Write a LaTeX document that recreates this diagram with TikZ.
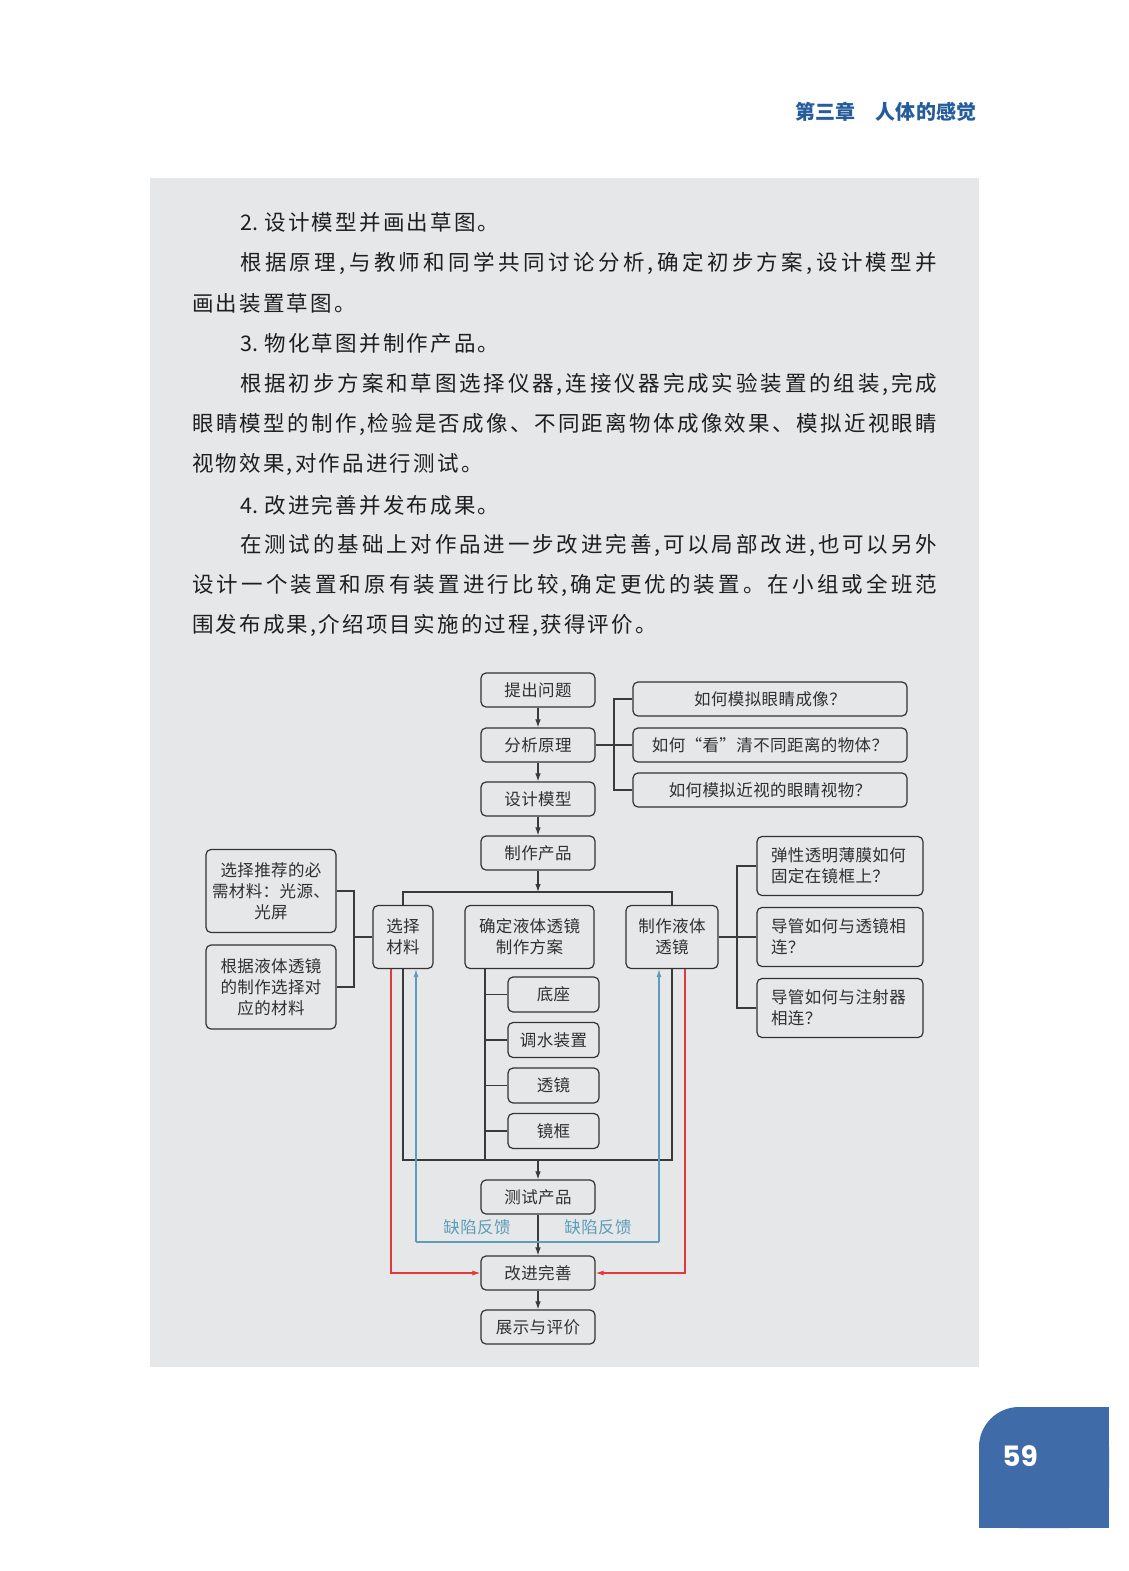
\documentclass[tikz,border=0pt]{standalone}
\usepackage{fontspec}
\usetikzlibrary{arrows.meta}
\setmainfont{Noto Sans CJK SC}
\newfontfamily\pgnumfont{Poppins}
\definecolor{panel}{HTML}{E6E7E9}
\definecolor{bluehead}{HTML}{245C9C}
\definecolor{pagebox}{HTML}{3F6CA8}
\definecolor{boxc}{HTML}{333333}
\definecolor{linec}{HTML}{3A3A3A}
\definecolor{redc}{HTML}{E5383B}
\definecolor{fbc}{HTML}{5E9DB8}
\definecolor{txt}{HTML}{1E1E1E}
\definecolor{txtb}{HTML}{303030}
% character classes for inter-character glue
\newcount\cc
\cc="4E00
\loop \XeTeXcharclass\cc=1 \advance\cc by 1 \ifnum\cc<"A000 \repeat
\XeTeXcharclass"3000=1
\XeTeXcharclass"3001=3 \XeTeXcharclass"3002=3 \XeTeXcharclass"FF0C=3
\XeTeXcharclass"FF1A=3 \XeTeXcharclass"FF1F=3
\XeTeXcharclass"201C=2 \XeTeXcharclass"201D=3
\newskip\cjkgap
\cjkgap=0pt
\XeTeXinterchartokenstate=1
\XeTeXinterchartoks 1 1 {\hskip\cjkgap}
\XeTeXinterchartoks 1 2 {\hskip\cjkgap}
\XeTeXinterchartoks 1 3 {\hskip\cjkgap}
\XeTeXinterchartoks 2 1 {\hskip\cjkgap}
\XeTeXinterchartoks 3 1 {\hskip\cjkgap}
\XeTeXinterchartoks 3 3 {\hskip\cjkgap}
\XeTeXinterchartoks 0 1 {\hskip\cjkgap}
\XeTeXinterchartoks 1 0 {\hskip\cjkgap}
\XeTeXinterchartoks 3 0 {\hskip\cjkgap}
\XeTeXinterchartoks 0 3 {\hskip\cjkgap}
\newcommand\bdfont{\fontsize{21.5pt}{26pt}\selectfont\cjkgap=2.2pt plus 40pt minus 4pt\relax}
\newcommand\dgfont{\fontsize{16.5pt}{21pt}\selectfont\cjkgap=0.4pt\relax}
\newcommand\hdfont{\fontsize{20pt}{20pt}\selectfont\bfseries\cjkgap=0.3pt\relax}
\begin{document}
\begin{tikzpicture}[x=1pt,y=-1pt,
  box/.style={draw=boxc, line width=1.2pt, rounded corners=5pt, inner sep=0pt, font=\dgfont, text=txtb, align=center},
  lbox/.style={box, align=left, text width=138pt},
  conn/.style={draw=linec, line width=1.1pt},
  arr/.style={conn, -{Latex[length=8pt,width=5.5pt]}},
  fbline/.style={draw=fbc, line width=1.1pt},
  fbarr/.style={fbline, -{Latex[length=8pt,width=5pt]}},
  rline/.style={draw=redc, line width=1.1pt},
  rarr/.style={rline, -{Latex[length=8pt,width=5pt]}},
  body/.style={anchor=west, inner sep=0pt, font=\bdfont, text=txt}]
\useasboundingbox (0,0) rectangle (1129,1571);
\fill[white] (0,0) rectangle (1129,1571);
\fill[panel] (150,178) rectangle (979,1367);

% header
\node[anchor=east, inner sep=0pt, font=\hdfont, text=bluehead] (head) at (977,112) {第三章\hspace{1em}人体的感觉};

% page number
\fill[pagebox, rounded corners=40pt] (979,1407) rectangle (1109,1528);
\fill[pagebox] (1044,1407) rectangle (1109,1528);
\fill[pagebox] (979,1467) rectangle (1109,1528);
\node[font=\pgnumfont\bfseries\fontsize{28pt}{28pt}\selectfont, text=white, inner sep=0pt] (pg) at (1020,1456) {59};

% body text
\node[body] (b1) at (240,222) {2. 设计模型并画出草图。};
\node[body] (b2) at (240,263) {\makebox[697pt][s]{根据原理,与教师和同学共同讨论分析,确定初步方案,设计模型并}};
\node[body] (b3) at (192,303) {画出装置草图。};
\node[body] (b4) at (240,343) {3. 物化草图并制作产品。};
\node[body] (b5) at (240,384) {\makebox[697pt][s]{根据初步方案和草图选择仪器,连接仪器完成实验装置的组装,完成}};
\node[body] (b6) at (192,424) {\makebox[745pt][s]{眼睛模型的制作,检验是否成像、不同距离物体成像效果、模拟近视眼睛}};
\node[body] (b7) at (192,464) {视物效果,对作品进行测试。};
\node[body] (b8) at (240,505) {4. 改进完善并发布成果。};
\node[body] (b9) at (240,545) {\makebox[697pt][s]{在测试的基础上对作品进一步改进完善,可以局部改进,也可以另外}};
\node[body] (b10) at (192,585) {\makebox[745pt][s]{设计一个装置和原有装置进行比较,确定更优的装置。在小组或全班范}};
\node[body] (b11) at (192,625) {围发布成果,介绍项目实施的过程,获得评价。};

% main column
\node[box, minimum width=114, minimum height=34] (q1) at (538,690) {提出问题};
\node[box, minimum width=114, minimum height=34] (q2) at (538,745) {分析原理};
\node[box, minimum width=114, minimum height=34] (q3) at (538,799) {设计模型};
\node[box, minimum width=114, minimum height=34] (q4) at (538,853) {制作产品};

% questions
\node[box, minimum width=274, minimum height=34] (r1) at (770,699) {如何模拟眼睛成像？};
\node[box, minimum width=274, minimum height=34] (r2) at (770,745) {如何“看”清不同距离的物体？};
\node[box, minimum width=274, minimum height=34] (r3) at (770,790) {如何模拟近视的眼睛视物？};

% left materials
\node[box, minimum width=130, minimum height=83] (l1) at (271,891) {选择推荐的必\\需材料：光源、\\光屏};
\node[box, minimum width=130, minimum height=84] (l2) at (271,987) {根据液体透镜\\的制作选择对\\应的材料};

% middle row
\node[box, minimum width=60, minimum height=63] (m1) at (403,937) {选择\\材料};
\node[box, minimum width=129, minimum height=63] (m2) at (529.5,937) {确定液体透镜\\制作方案};
\node[box, minimum width=92, minimum height=63] (m3) at (672,937) {制作液体\\透镜};

% right questions
\node[lbox, minimum width=166, minimum height=59] (s1) at (840,866) {弹性透明薄膜如何\\固定在镜框上？};
\node[lbox, minimum width=166, minimum height=59] (s2) at (840,937) {导管如何与透镜相\\连？};
\node[lbox, minimum width=166, minimum height=59] (s3) at (840,1008) {导管如何与注射器\\相连？};

% parts
\node[box, minimum width=91, minimum height=35] (d1) at (553.5,994.5) {底座};
\node[box, minimum width=91, minimum height=35] (d2) at (553.5,1040) {调水装置};
\node[box, minimum width=91, minimum height=35] (d3) at (553.5,1085.5) {透镜};
\node[box, minimum width=91, minimum height=35] (d4) at (553.5,1131) {镜框};

% bottom column
\node[box, minimum width=114, minimum height=34] (t1) at (538,1197) {测试产品};
\node[box, minimum width=114, minimum height=34] (t2) at (538,1273) {改进完善};
\node[box, minimum width=114, minimum height=34] (t3) at (538,1327) {展示与评价};

% feedback labels
\node[font=\dgfont, text=fbc, inner sep=0pt] (fl) at (477,1227) {缺陷反馈};
\node[font=\dgfont, text=fbc, inner sep=0pt] (fr) at (598,1227) {缺陷反馈};

% coordinates
\coordinate (jq) at (614,745);
\coordinate (bus1) at (538,892);
\coordinate (jl) at (354,937);
\coordinate (jr) at (737,937);
\coordinate (jd) at (485,1160);
\coordinate (bus2) at (538,1160);
\coordinate (bl) at (416,1242);
\coordinate (br) at (659,1242);
\coordinate (rl) at (391,1273);
\coordinate (rr) at (685,1273);

% main arrows
\draw[arr] (q1) -- (q2);
\draw[arr] (q2) -- (q3);
\draw[arr] (q3) -- (q4);
\draw[arr] (q4) -- (bus1);

% question bracket
\draw[conn] (q2.east) -- (r2.west);
\draw[conn] (r1.west) -- (r1.west -| jq) -- (r3.west -| jq) -- (r3.west);

% top bus
\draw[conn] (m1.north) -- (m1.north |- bus1) -- (m3.north |- bus1) -- (m3.north);

% left bracket
\draw[conn] (l1.east) -- (l1.east -| jl) -- (l2.east -| jl) -- (l2.east);
\draw[conn] (jl) -- (m1.west);

% right bracket
\draw[conn] (m3.east) -- (s2.west);
\draw[conn] (s1.west) -- (s1.west -| jr) -- (s3.west -| jr) -- (s3.west);

% parts tree
\draw[conn] (jd |- m2.south) -- (jd);
\draw[conn] (jd |- d1.west) -- (d1.west);
\draw[conn] (jd |- d2.west) -- (d2.west);
\draw[conn] (jd |- d3.west) -- (d3.west);
\draw[conn] (jd |- d4.west) -- (d4.west);

% bottom bus
\draw[conn] (m1.south) -- (m1.south |- bus2) -- (m3.south |- bus2) -- (m3.south);
\draw[arr] (bus2) -- (t1.north);
\draw[arr] (t1.south) -- (t2.north);
\draw[arr] (t2.south) -- (t3.north);

% feedback (blue)
\draw[fbline] (bl) -- (br);
\draw[fbarr] (bl) -- (bl |- m1.south);
\draw[fbarr] (br) -- (br |- m3.south);

% red improvement
\draw[rarr] (rl |- m1.south) -- (rl) -- (t2.west);
\draw[rarr] (rr |- m3.south) -- (rr) -- (t2.east);
\end{tikzpicture}
\end{document}
